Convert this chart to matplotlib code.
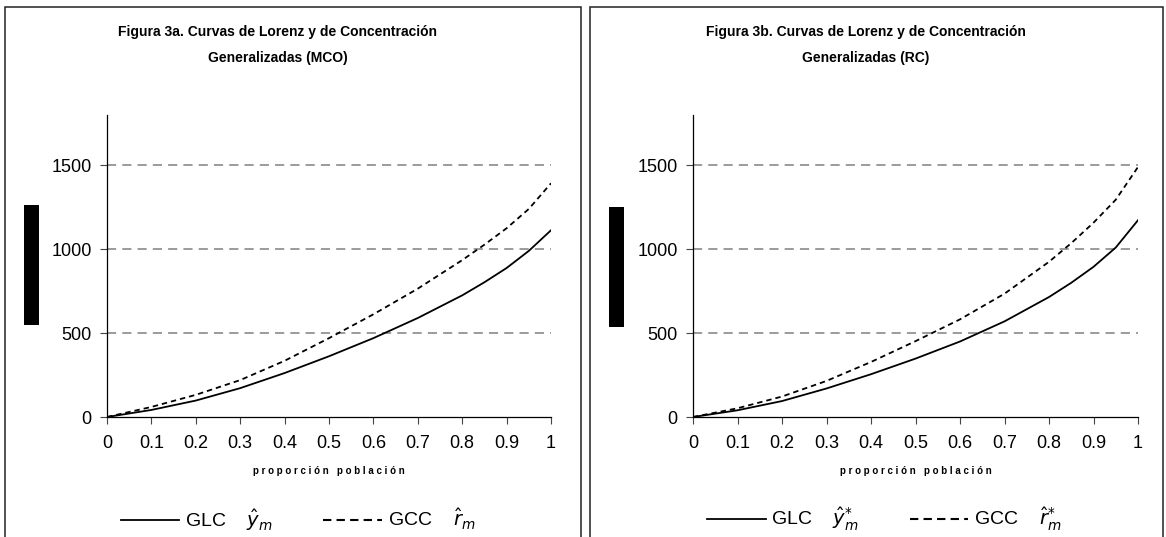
import numpy as np
import matplotlib
matplotlib.use("Agg")
import matplotlib.pyplot as plt
from matplotlib.patches import Rectangle
from matplotlib.lines import Line2D

plt.rcParams['font.family'] = ['Liberation Sans', 'DejaVu Sans']

# proporcion de poblacion
p = [0, 0.1, 0.2, 0.3, 0.4, 0.5, 0.6, 0.7, 0.8, 0.85, 0.9, 0.95, 1.0]

# Figura 3a (MCO)
glc_mco = [0, 42, 98, 172, 262, 362, 470, 590, 725, 803, 888, 990, 1113]
gcc_mco = [0, 60, 132, 220, 335, 470, 612, 765, 935, 1027, 1125, 1240, 1393]

# Figura 3b (RC)
glc_rc = [0, 40, 95, 170, 255, 348, 450, 570, 715, 800, 895, 1010, 1173]
gcc_rc = [0, 52, 122, 215, 328, 452, 582, 735, 925, 1036, 1158, 1295, 1490]

xticks = [0, 0.1, 0.2, 0.3, 0.4, 0.5, 0.6, 0.7, 0.8, 0.9, 1]
xtick_labels = ["0", "0.1", "0.2", "0.3", "0.4", "0.5", "0.6", "0.7", "0.8", "0.9", "1"]
yticks = [0, 500, 1000, 1500]

W, H = 1166, 537
fig = plt.figure(figsize=(W / 100, H / 100), dpi=100)


def fx(px):
    return px / W


def fy(py):
    return 1 - py / H


panels = [
    dict(x0=107, x1=551, box=(5, 581), title_x=278,
         title="Figura 3a. Curvas de Lorenz y de Concentración",
         sub="Generalizadas (MCO)", glc=glc_mco, gcc=gcc_mco,
         bar=(24, 205, 15, 120),
         labels=["GLC    $\\hat{y}_m$", "GCC    $\\hat{r}_m$"]),
    dict(x0=693, x1=1138, box=(590, 1163), title_x=866,
         title="Figura 3b. Curvas de Lorenz y de Concentración",
         sub="Generalizadas (RC)", glc=glc_rc, gcc=gcc_rc,
         bar=(609, 207, 15, 120),
         labels=["GLC    $\\hat{y}^{*}_m$", "GCC    $\\hat{r}^{*}_m$"]),
]

for pn in panels:
    # panel frame
    bx0, bx1 = pn["box"]
    fig.add_artist(Rectangle((fx(bx0), -0.1), fx(bx1 - bx0), fy(7) + 0.1,
                             transform=fig.transFigure, fill=False,
                             edgecolor="#222222", lw=1.1))
    # black block where the y label sits
    bxx, byy, bw, bh = pn["bar"]
    fig.add_artist(Rectangle((fx(bxx), fy(byy + bh)), fx(bw), bh / H,
                             transform=fig.transFigure, facecolor="black",
                             edgecolor="none"))

    fig.text(fx(pn["title_x"]), fy(32), pn["title"], ha="center", va="center",
             fontsize=10, fontweight="bold")
    fig.text(fx(pn["title_x"]), fy(58), pn["sub"], ha="center", va="center",
             fontsize=10, fontweight="bold")

    ax = fig.add_axes([fx(pn["x0"]), fy(417), fx(pn["x1"] - pn["x0"]), (417 - 115) / H])
    ax.plot(p, pn["glc"], color="black", lw=1.3)
    ax.plot(p, pn["gcc"], color="black", lw=1.3, linestyle=(0, (3, 2.2)))

    ax.set_xlim(0, 1)
    ax.set_ylim(0, 1800)
    ax.set_xticks(xticks)
    ax.set_xticklabels(xtick_labels)
    ax.set_yticks(yticks)
    ax.tick_params(axis="both", direction="out", length=5, width=0.8,
                   labelsize=13, color="#444444")
    ax.tick_params(axis="x", pad=8)
    ax.tick_params(axis="y", pad=6)
    for y in yticks[1:]:
        ax.axhline(y, color="#808080", lw=1.1, linestyle=(0, (6, 4)), zorder=0)
    for s in ["top", "right"]:
        ax.spines[s].set_visible(False)
    for s in ["left", "bottom"]:
        ax.spines[s].set_linewidth(0.9)

    ax.set_xlabel("p r o p o r c i ó n   p o b l a c i ó n", fontsize=7,
                  fontweight="bold", labelpad=10)

    handles = [Line2D([], [], color="black", lw=1.3),
               Line2D([], [], color="black", lw=1.5, linestyle=(0, (4, 2.5)))]
    ax.legend(handles, pn["labels"], loc="center", bbox_to_anchor=(0.43, -0.34),
              ncol=2, frameon=False, fontsize=14, handlelength=3.0,
              handletextpad=0.3, columnspacing=2.6)

fig.savefig("out.png", dpi=100)
